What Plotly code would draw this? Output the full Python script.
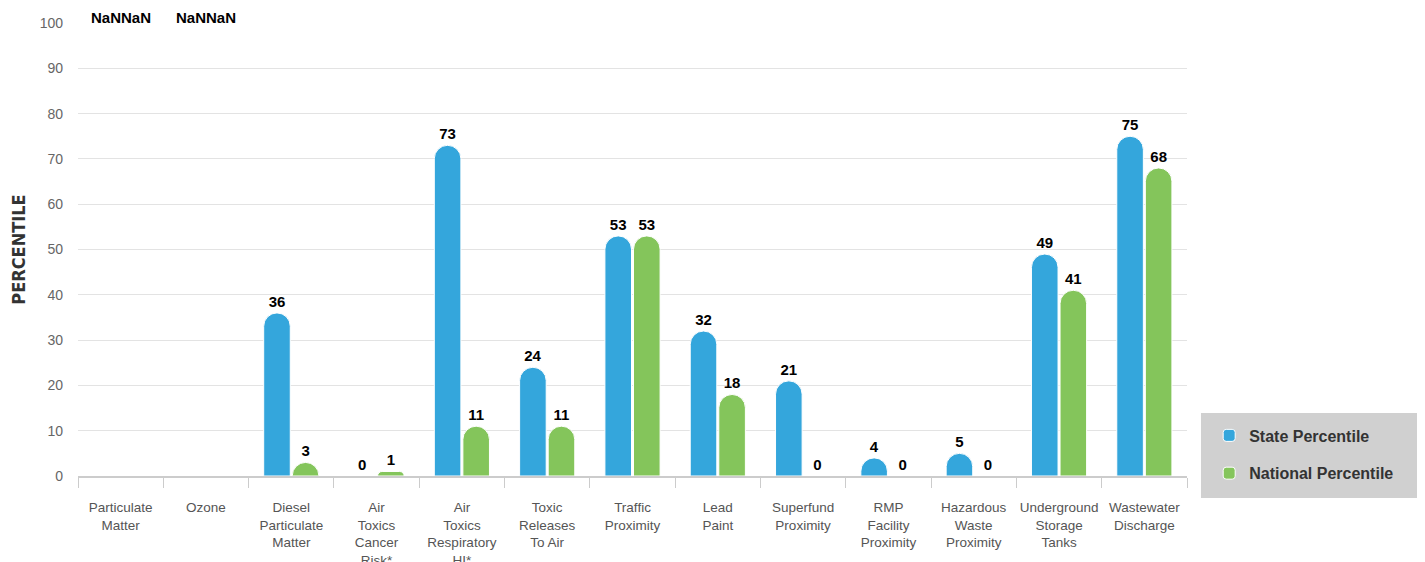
import plotly.graph_objects as go

categories = [
    "Particulate<br>Matter", "Ozone", "Diesel<br>Particulate<br>Matter",
    "Air<br>Toxics<br>Cancer<br>Risk*", "Air<br>Toxics<br>Respiratory<br>HI*",
    "Toxic<br>Releases<br>To Air", "Traffic<br>Proximity", "Lead<br>Paint",
    "Superfund<br>Proximity", "RMP<br>Facility<br>Proximity",
    "Hazardous<br>Waste<br>Proximity", "Underground<br>Storage<br>Tanks",
    "Wastewater<br>Discharge",
]
state_pct = [None, None, 36, 0, 73, 24, 53, 32, 21, 4, 5, 49, 75]
national_pct = [None, None, 3, 1, 11, 11, 53, 18, 0, 0, 0, 41, 68]
y_ticks = [0, 10, 20, 30, 40, 50, 60, 70, 80, 90, 100]

BLUE = "#34a6dc"
GREEN = "#84c55b"
label_font = dict(family="Liberation Sans, Arial, sans-serif", size=15, color="#000000")

def txt(vals):
    return [("" if v is None else str(v)) for v in vals]

fig = go.Figure()
fig.add_bar(
    name="State Percentile", x=categories, y=state_pct, legendgroup="s",
    marker=dict(color=BLUE, cornerradius="50%", line=dict(color="white", width=1)),
    text=txt(state_pct), textposition="outside", cliponaxis=False,
    textfont=dict(label_font, weight="bold"),
)
fig.add_bar(
    name="National Percentile", x=categories, y=national_pct, legendgroup="n",
    marker=dict(color=GREEN, cornerradius="50%", line=dict(color="white", width=1)),
    text=txt(national_pct), textposition="outside", cliponaxis=False,
    textfont=dict(label_font, weight="bold"),
)

# "NaN" labels for missing values (as rendered in the original)
for i, c in enumerate(categories):
    for vals, shift in ((state_pct, -15), (national_pct, 15)):
        if vals[i] is None:
            fig.add_annotation(
                x=c, y=y_ticks[-1], xshift=shift, yanchor="bottom", yshift=-5,
                text="<b>NaN</b>", showarrow=False, font=label_font,
            )

# legend background panel
fig.add_shape(type="rect", xref="paper", yref="paper",
              x0=1.0126, x1=1.211, y0=-0.0486, y1=0.139,
              fillcolor="#d0d0d0", line=dict(width=0), layer="below")

fig.update_layout(
    width=1425, height=562,
    margin=dict(l=70, r=246, t=15, b=94),
    paper_bgcolor="white", plot_bgcolor="white",
    barmode="group", bargap=0.33, bargroupgap=0.07,
    font=dict(family="Liberation Sans, Arial, sans-serif", color="#555555"),
    showlegend=True,
    legend=dict(
        x=1.02, xanchor="left", y=0.127, yanchor="top",
        bgcolor="rgba(0,0,0,0)", borderwidth=0,
        font=dict(size=16, color="#333333", weight="bold"),
        traceorder="grouped", tracegroupgap=14, itemwidth=30,
    ),
    xaxis=dict(
        type="category", tickson="boundaries", ticks="outside", ticklen=10,
        tickcolor="#cccccc", tickwidth=1, showline=True, linecolor="#cccccc",
        linewidth=2, tickfont=dict(size=13.5, color="#555555"), showgrid=False,
        tickangle=0, ticklabelstandoff=18, automargin=False,
    ),
    yaxis=dict(
        range=[0, 100], tickvals=y_ticks, showgrid=True, gridcolor="#e3e3e3",
        gridwidth=1, zeroline=False, showline=False, automargin=False,
        tickfont=dict(size=14, color="#666666"), ticklabelstandoff=14,
        title=dict(text="PERCENTILE", standoff=14,
                   font=dict(family="DejaVu Sans Condensed, sans-serif",
                             size=18, color="#333333", weight="bold")),
    ),
)

fig.write_html("out.html")
